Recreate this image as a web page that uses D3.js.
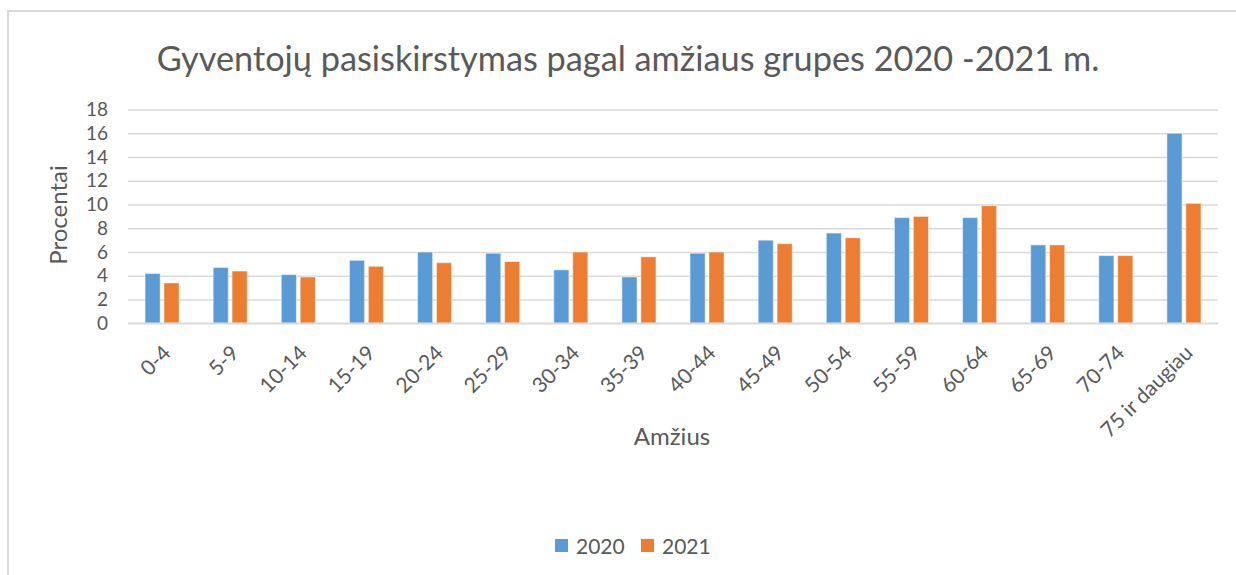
<!DOCTYPE html>
<html>
<head>
<meta charset="utf-8">
<script src="https://cdn.jsdelivr.net/npm/d3@7"></script>
<style>
  html, body { margin: 0; padding: 0; background: #fff; }
  svg { display: block; }
  text { font-family: "Lato", "Open Sans", sans-serif; fill: #595959; }
</style>
</head>
<body>
<svg id="chart" width="1236" height="575"></svg>
<script>
const categories = ["0-4","5-9","10-14","15-19","20-24","25-29","30-34","35-39","40-44","45-49","50-54","55-59","60-64","65-69","70-74","75 ir daugiau"];
const seriesNames = ["2020","2021"];
const values2020 = [4.2,4.7,4.1,5.3,6.0,5.9,4.5,3.9,5.9,7.0,7.6,8.9,8.9,6.6,5.7,16.0];
const values2021 = [3.4,4.4,3.9,4.8,5.1,5.2,6.0,5.6,6.0,6.7,7.2,9.0,9.9,6.6,5.7,10.1];
const yTicks = [0,2,4,6,8,10,12,14,16,18];
const colors = ["#5B9BD5","#ED7D31"];
const titleText = "Gyventojų pasiskirstymas pagal amžiaus grupes 2020 -2021 m.";
const yTitle = "Procentai";
const xTitle = "Amžius";

const svg = d3.select("#chart");
const W = 1236, H = 575;
const plot = {left: 128, right: 1218, top: 109.5, bottom: 323.3};

// chart border
svg.append("rect").attr("x", 8).attr("y", 11).attr("width", W + 10).attr("height", H + 10)
  .attr("fill", "#fff").attr("stroke", "#d9d9d9").attr("stroke-width", 2);

const x = d3.scaleBand().domain(categories).range([plot.left, plot.right])
  .paddingInner(0.5).paddingOuter(0.25);
const xs = d3.scaleBand().domain(seriesNames).range([0, x.bandwidth()]).paddingInner(0.2);
const y = d3.scaleLinear().domain([0, 18]).range([plot.bottom, plot.top]);

// gridlines
const yAxis = d3.axisLeft(y).tickValues(yTicks).tickSize(-(plot.right - plot.left)).tickPadding(20);
const gy = svg.append("g").attr("transform", `translate(${plot.left},0)`).call(yAxis);
gy.select(".domain").remove();
gy.selectAll(".tick line").attr("stroke", "#d9d9d9").attr("stroke-width", 1.5);
gy.selectAll(".tick text").attr("x", 108 - plot.left).attr("text-anchor", "end")
  .style("font-size", "19px").style("font-family", "Lato, sans-serif").attr("fill", "#595959");

// bars
const data = categories.map((c, i) => ({cat: c, vals: [values2020[i], values2021[i]]}));
const groups = svg.append("g").selectAll("g").data(data).join("g")
  .attr("transform", d => `translate(${x(d.cat)},0)`);
groups.selectAll("rect").data(d => d.vals.map((v, k) => ({v, k}))).join("rect")
  .attr("x", d => xs(seriesNames[d.k]))
  .attr("width", xs.bandwidth())
  .attr("y", d => y(d.v))
  .attr("height", d => y(0) - y(d.v))
  .attr("fill", d => colors[d.k])
  .attr("stroke", "#fff").attr("stroke-opacity", 0.5).attr("stroke-width", 1);

// x axis line
svg.append("line").attr("x1", plot.left).attr("x2", plot.right)
  .attr("y1", plot.bottom).attr("y2", plot.bottom).attr("stroke", "#d9d9d9").attr("stroke-width", 1.5);

// x labels
const xAxis = d3.axisBottom(x).tickSize(0).tickPadding(0);
const gx = svg.append("g").attr("transform", `translate(0,${plot.bottom})`).call(xAxis);
gx.select(".domain").remove();
gx.selectAll(".tick text")
  .attr("text-anchor", "end")
  .attr("dy", 0).attr("y", 0)
  .attr("transform", "translate(10,31) rotate(-45)")
  .style("font-size", "21px").style("font-family", "Lato, sans-serif").attr("fill", "#595959");

// title
const t = svg.append("text").attr("x", 628).attr("y", 71).attr("text-anchor", "middle")
  .style("font-size", "30px").text(titleText);
const tw = t.node().getComputedTextLength();
t.style("font-size", (30 * 943 / tw) + "px");

// axis titles
svg.append("text").attr("transform", "translate(67,215) rotate(-90)").attr("text-anchor", "middle")
  .style("font-size", "24px").text(yTitle);
svg.append("text").attr("x", 672).attr("y", 445).attr("text-anchor", "middle")
  .style("font-size", "24px").text(xTitle);

// legend
const legend = svg.append("g");
const legX = [555, 641];
seriesNames.forEach((s, i) => {
  legend.append("rect").attr("x", legX[i]).attr("y", 539).attr("width", 13).attr("height", 13).attr("fill", colors[i]);
  legend.append("text").attr("x", legX[i] + 21).attr("y", 554).style("font-size", "21px").text(s);
});
</script>
</body>
</html>
